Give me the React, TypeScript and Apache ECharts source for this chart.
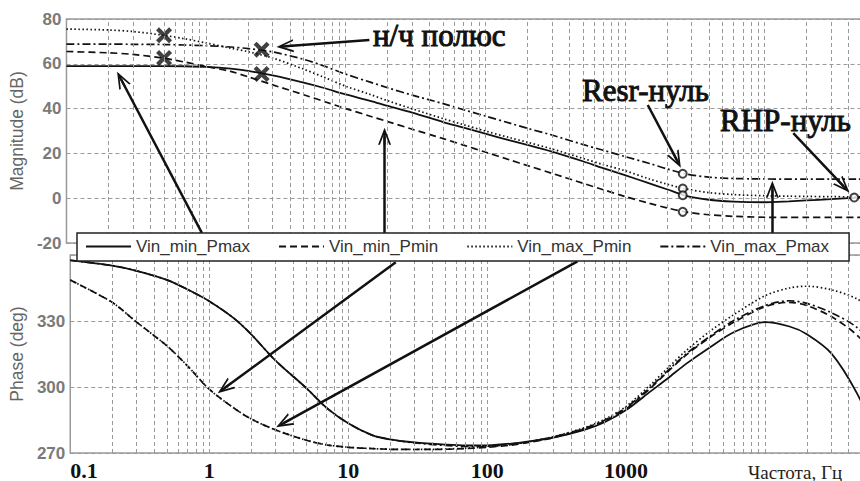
import React, { useEffect, useRef } from 'react';
import * as echarts from 'echarts';

// Frequency points (Hz)
const freq = [0.1, 0.2, 0.3, 0.5, 0.7, 1, 1.5, 2, 3, 5, 7, 10, 15, 20, 30, 50, 70, 100, 150, 200, 300, 500, 700, 1000, 1500, 2000, 2700, 4000, 6000, 10000, 15000, 20000, 30000, 46000, 70000, 100000];

// Magnitude (dB)
const magVinMinPmax = [59, 59, 59, 59, 58.9, 58.6, 57.8, 56.8, 54.8, 51.6, 49.2, 46.3, 43.5, 41.2, 38.2, 34, 31.5, 28.8, 25.8, 23.8, 20.8, 16.5, 13.4, 10.3, 6.6, 4, 1.2, -0.7, -1.5, -1.8, -1.4, -1, -0.4, 0.3, 1, 1.8];
const magVinMinPmin = [65.5, 64.9, 64.2, 62.5, 60.8, 58.8, 56.6, 54.2, 50.6, 46.2, 43.2, 40, 36.6, 34.2, 30.8, 26.6, 23.7, 20.6, 17.1, 14.6, 11.1, 6.7, 3.8, 0.8, -2.3, -4.3, -6.1, -7.4, -8.1, -8.5, -8.6, -8.6, -8.6, -8.6, -8.6, -8.6];
const magVinMaxPmin = [75.5, 75.1, 74.4, 72.7, 71.2, 69.3, 67, 65.4, 62.6, 57.6, 54, 50, 46.3, 43.5, 39.9, 35.5, 32.8, 30, 27, 25, 22, 17.8, 15, 12.3, 8.6, 6.3, 4.2, 2.5, 1.6, 1.1, 0.9, 0.8, 0.7, 0.6, 0.6, 0.6];
const magVinMaxPmax = [68.8, 68.8, 68.7, 68.6, 68.4, 68.1, 67.5, 66.8, 65.3, 62, 59, 55.4, 51.8, 49.3, 46, 42.2, 39.5, 36.7, 33.5, 31.2, 28.2, 24, 21.4, 18.6, 15.5, 13.1, 10.9, 9.4, 8.8, 8.6, 8.5, 8.5, 8.5, 8.5, 8.5, 8.5];

// Phase (deg)
const phVinMinPmax = [357.6, 355.2, 352.8, 348.6, 344.3, 339, 331.3, 324, 312, 299.5, 290.5, 283.5, 278, 276.2, 274.8, 273.8, 273.4, 273.5, 274.3, 275.3, 277, 280.5, 284, 289.5, 298, 304, 310.5, 318, 325, 329.5, 327.5, 324, 315.3, 297, 272, 255];
const phVinMinPmin = [348.6, 338.5, 329.5, 318.5, 309.5, 299, 290.5, 285.5, 280.5, 275.8, 273.7, 272.6, 272, 271.7, 271.6, 271.7, 272, 272.6, 273.6, 274.8, 277, 280.8, 284.5, 290, 299.5, 307, 314.5, 322.5, 329.5, 336.5, 338.5, 337, 332, 323.5, 310, 295];
const phVinMaxPmin = [348.6, 338.5, 329.5, 318.5, 309.5, 299, 290.5, 285.5, 280.5, 275.8, 273.7, 272.6, 272, 271.7, 271.6, 271.8, 272.2, 272.8, 273.9, 275.1, 277.4, 281.5, 285.3, 291.2, 301, 308.7, 316.5, 325.3, 333, 341.5, 345, 345.8, 344.2, 340, 332, 320];
const phVinMaxPmax = [357.6, 355.2, 352.8, 348.6, 344.3, 339, 331.3, 324, 312, 299.5, 290.5, 283.5, 278, 276.2, 274.6, 273.4, 273, 273.1, 273.9, 275.1, 277.3, 281.2, 284.9, 290.6, 300, 307.5, 315, 323, 330.3, 337, 339.2, 338, 333.8, 327, 315, 300];

// Poles (crosses) and zeros (circles) on the magnitude plot
const poleFreq = [0.5, 0.5, 2.5, 2.5];
const poleMag = [72.8, 62.6, 66.3, 55.5];
const zeroFreq = [2600, 2600, 2600, 2600, 44000];
const zeroMag = [10.9, 4.3, 1.3, -6.1, 0.3];

// Annotation arrows [fromFreq, fromValue, toFreq, toValue]
const magArrows = [
  [14.8, 70.6, 3.67, 67.8],
  [1460, 41.6, 2360, 17.0],
  [16110, 29.05, 36950, 5.3],
  [0.935, -15.6, 0.246, 53.1],
  [19.0, -15.6, 19.0, 27.7],
  [11400, -15.6, 11400, 4.0],
];
const phaseArrows = [
  [22.0, 356.7, 1.29, 299.5],
  [447, 357.1, 3.43, 283.6],
];

const names = ['Vin_min_Pmax', 'Vin_min_Pmin', 'Vin_max_Pmin', 'Vin_max_Pmax'];
const magSets = [magVinMinPmax, magVinMinPmin, magVinMaxPmin, magVinMaxPmax];
const phSets = [phVinMinPmax, phVinMinPmin, phVinMaxPmin, phVinMaxPmax];
const dashTypes: any[] = ['solid', [7, 4], [1.5, 2.5], [8, 3, 2, 3]];
const widths = [1.8, 1.7, 1.7, 1.7];

const SANS = '"Liberation Sans", Arial, sans-serif';
const SERIF = '"Liberation Serif", "DejaVu Serif", serif';

const arrowHead = 'path://M6,0 L12,16 L10.3,16 L6,4.5 L1.7,16 L0,16 Z M5.1,2 L6.9,2 L6.9,16 L5.1,16 Z';
const crossPath = 'path://M0,3 L3,0 L8,5 L13,0 L16,3 L11,8 L16,13 L13,16 L8,11 L3,16 L0,13 L5,8 Z';

function minorGrid() {
  const out: any[] = [];
  for (let e = -1; e <= 4; e++) {
    const d = Math.pow(10, e);
    for (let k = 1; k <= 9; k++) {
      if (e === -1 && k === 1) continue;
      out.push({ xAxis: Number((k * d).toPrecision(3)) });
    }
  }
  return out;
}

export default function App() {
  const ref = useRef<HTMLDivElement>(null);

  useEffect(() => {
    if (!ref.current) return;
    const chart = echarts.init(ref.current, undefined, { renderer: 'svg' });
    const gridLineStyle = { color: '#9a9a9a', type: [4, 3] as any, width: 1 };
    const vLines = minorGrid();

    const series: any[] = [];
    [0, 1].forEach((gi) => {
      series.push({
        type: 'line',
        name: 'grid' + gi,
        xAxisIndex: gi,
        yAxisIndex: gi,
        data: [],
        symbol: 'none',
        silent: true,
        z: 1,
        markLine: {
          silent: true,
          symbol: ['none', 'none'],
          label: { show: false },
          lineStyle: gridLineStyle,
          emphasis: { disabled: true },
          data: vLines,
        },
      });
    });

    names.forEach((n, i) => {
      series.push({
        type: 'line',
        name: n,
        xAxisIndex: 0,
        yAxisIndex: 0,
        data: freq.map((f, j) => [f, magSets[i][j]]),
        symbol: 'none',
        smooth: 0.3,
        z: 3,
        lineStyle: { color: '#111', width: widths[i], type: dashTypes[i] },
        itemStyle: { color: '#111' },
      });
    });
    names.forEach((n, i) => {
      series.push({
        type: 'line',
        name: n,
        xAxisIndex: 1,
        yAxisIndex: 1,
        data: freq.map((f, j) => [f, phSets[i][j]]),
        symbol: 'none',
        smooth: 0.3,
        z: 3,
        lineStyle: { color: '#111', width: widths[i], type: dashTypes[i] },
        itemStyle: { color: '#111' },
      });
    });

    series.push({
      type: 'scatter',
      name: 'poles',
      xAxisIndex: 0,
      yAxisIndex: 0,
      data: poleFreq.map((f, i) => [f, poleMag[i]]),
      symbol: crossPath,
      symbolSize: 16,
      itemStyle: { color: '#111' },
      z: 4,
      silent: true,
    });
    series.push({
      type: 'scatter',
      name: 'zeros',
      xAxisIndex: 0,
      yAxisIndex: 0,
      data: zeroFreq.map((f, i) => [f, zeroMag[i]]),
      symbol: 'circle',
      symbolSize: 8,
      itemStyle: { color: '#fff', borderColor: '#111', borderWidth: 2 },
      z: 4,
      silent: true,
    });

    const arrowMark = (arr: number[][]) => ({
      silent: true,
      symbol: ['none', arrowHead],
      symbolSize: [13, 17],
      label: { show: false },
      lineStyle: { color: '#111', width: 2.5, type: 'solid' },
      itemStyle: { color: '#111' },
      emphasis: { disabled: true },
      data: arr.map((a) => [{ coord: [a[0], a[1]] }, { coord: [a[2], a[3]] }]),
    });

    series.push({
      type: 'line',
      name: 'arrowsMag',
      xAxisIndex: 0,
      yAxisIndex: 0,
      data: [],
      symbol: 'none',
      z: 5,
      markLine: arrowMark(magArrows),
    });
    series.push({
      type: 'line',
      name: 'arrowsPhase',
      xAxisIndex: 1,
      yAxisIndex: 1,
      data: [],
      symbol: 'none',
      z: 5,
      markLine: arrowMark(phaseArrows),
    });

    const yLabel = { color: '#7a7a7a', fontWeight: 'bold', fontSize: 17, fontFamily: SANS, margin: 5 };
    const noteStyle = (text: string) => ({
      text,
      font: '31px ' + SERIF,
      fill: '#111',
      stroke: '#111',
      lineWidth: 1,
      align: 'left',
      verticalAlign: 'middle',
    });

    chart.setOption({
      animation: false,
      backgroundColor: '#fff',
      grid: [
        { left: 64, top: 19, width: 840, height: 224, show: true, borderColor: '#9a9a9a', borderWidth: 1.5, containLabel: false },
        { left: 64, top: 255, width: 840, height: 198, show: true, borderColor: '#9a9a9a', borderWidth: 1.5, containLabel: false },
      ],
      xAxis: [
        {
          type: 'log', logBase: 10, min: 0.1, max: 100000, gridIndex: 0,
          axisLine: { show: false }, axisTick: { show: false }, axisLabel: { show: false }, splitLine: { show: false },
        },
        {
          type: 'log', logBase: 10, min: 0.1, max: 100000, gridIndex: 1,
          axisLine: { show: false }, axisTick: { show: false }, splitLine: { show: false },
          axisLabel: {
            color: '#111', fontWeight: 'bold', fontSize: 22, fontFamily: SERIF, margin: 6,
            alignMinLabel: 'left',
            formatter: (v: number) => (v > 1000 ? '' : v < 1 ? v.toFixed(1) : String(Math.round(v))),
          },
        },
      ],
      yAxis: [
        {
          type: 'value', min: -20, max: 80, interval: 20, gridIndex: 0,
          name: 'Magnitude (dB)', nameLocation: 'middle', nameGap: 33, nameRotate: 90,
          nameTextStyle: { color: '#666', fontSize: 17.5, fontFamily: SANS },
          axisLine: { show: false }, axisTick: { show: false },
          axisLabel: yLabel,
          splitLine: { lineStyle: gridLineStyle },
        },
        {
          type: 'value', min: 270, max: 360, interval: 30, gridIndex: 1,
          name: 'Phase (deg)', nameLocation: 'middle', nameGap: 38, nameRotate: 90,
          nameTextStyle: { color: '#666', fontSize: 17.5, fontFamily: SANS },
          axisLine: { show: false }, axisTick: { show: false },
          axisLabel: { ...yLabel, formatter: (v: number) => (v === 360 ? '' : String(v)) },
          splitLine: { lineStyle: gridLineStyle },
        },
      ],
      legend: {
        data: names,
        left: 77,
        top: 233,
        orient: 'horizontal',
        itemWidth: 45,
        itemHeight: 14,
        itemGap: 28,
        padding: [5, 20, 6, 8],
        backgroundColor: '#fff',
        borderColor: '#222',
        borderWidth: 1.5,
        borderRadius: 0,
        selectedMode: false,
        itemStyle: { opacity: 0 },
        textStyle: { color: '#333', fontSize: 17, fontFamily: SANS },
        z: 10,
      },
      graphic: [
        { type: 'text', x: 373, y: 35, z: 20, style: noteStyle('н/ч полюс') },
        { type: 'text', x: 582, y: 90, z: 20, style: noteStyle('Resr-нуль') },
        { type: 'text', x: 720, y: 120, z: 20, style: noteStyle('RHP-нуль') },
        { type: 'text', x: 748, y: 472, z: 20, style: { text: 'Частота, Гц', font: '19px ' + SERIF, fill: '#222', align: 'left', verticalAlign: 'middle' } },
      ],
      series,
    });
    return () => chart.dispose();
  }, []);

  return (
    <div style={{ position: 'fixed', left: 0, top: 0, width: 860, height: 481, overflow: 'hidden', background: '#fff' }}>
      <div ref={ref} style={{ width: 960, height: 481 }} />
    </div>
  );
}
